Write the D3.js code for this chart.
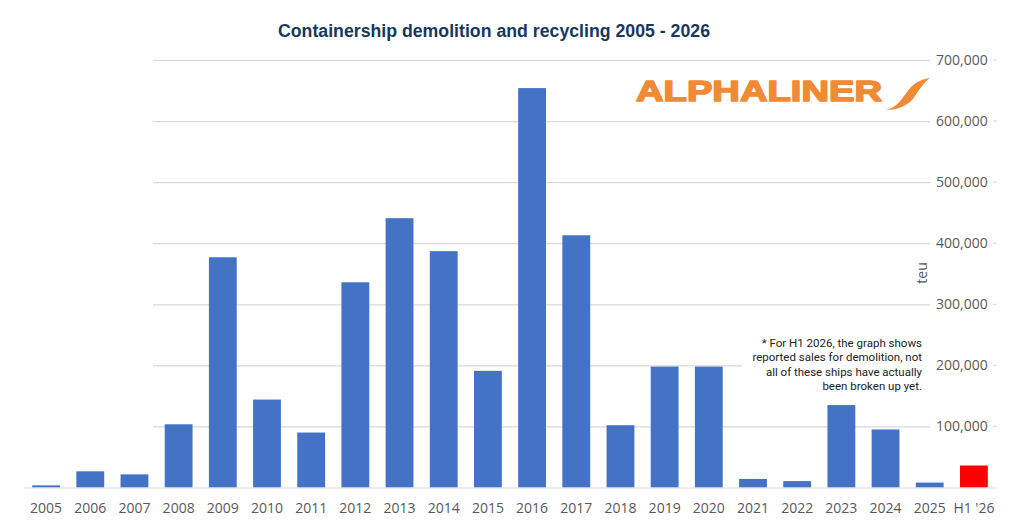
<!DOCTYPE html>
<html lang="en">
<head>
    <meta charset="UTF-8">
    <title>Containership demolition</title>
    <script src="https://d3js.org/d3.v7.min.js"></script>
    <style>
        body { margin: 0; background: #fff; }
    </style>
</head>
<body>
    <script>
        // data (teu)
        var years = ["2005", "2006", "2007", "2008", "2009", "2010", "2011", "2012", "2013", "2014", "2015",
                     "2016", "2017", "2018", "2019", "2020", "2021", "2022", "2023", "2024", "2025", "H1 '26"];
        var teu = [3500, 26500, 21500, 103500, 377000, 144000, 90000, 336000, 441000, 387000, 191000,
                   654000, 413000, 102000, 198000, 198000, 14000, 10500, 135000, 95000, 8000, 36000];
        var yTicks = [100000, 200000, 300000, 400000, 500000, 600000, 700000];
        var noteLines = ["* For H1 2026, the graph shows",
                         "reported sales for demolition, not",
                         "all of these ships have actually",
                         "been broken up yet."];

        var W = 1024, H = 525;
        var svg = d3.select("body").append("svg")
            .attr("width", W)
            .attr("height", H);

        var x = d3.scaleBand()
            .domain(years)
            .range([24, 996])
            .paddingInner(0.37)
            .paddingOuter(0.185);

        var y = d3.scaleLinear()
            .domain([0, 700000])
            .range([487.5, 60]);

        // gridlines + right labels
        var gy = svg.append("g")
            .attr("transform", "translate(153,0)")
            .call(d3.axisRight(y).tickValues(yTicks).tickSize(777).tickPadding(6)
                .tickFormat(d3.format(",")));
        gy.select(".domain").remove();
        gy.selectAll("line").attr("stroke", "#d9d9d9").attr("stroke-width", 1.2);
        gy.selectAll("text")
            .attr("fill", "#595959")
            .style("font-family", "'Open Sans', sans-serif")
            .style("font-size", "14px");

        // tiny tick marks right of the labels
        svg.append("g").selectAll("line")
            .data(yTicks)
            .enter()
            .append("line")
            .attr("x1", 993).attr("x2", 997)
            .attr("y1", function(d){ return y(d); })
            .attr("y2", function(d){ return y(d); })
            .attr("stroke", "#d9d9d9");

        // white box behind the note
        svg.append("rect")
            .attr("x", 742).attr("y", 330)
            .attr("width", 188).attr("height", 68)
            .attr("fill", "#fff");

        // bars
        svg.append("g").selectAll("rect")
            .data(years)
            .enter()
            .append("rect")
            .attr("x", function(d){ return x(d); })
            .attr("width", x.bandwidth())
            .attr("y", function(d, i){ return y(teu[i]); })
            .attr("height", function(d, i){ return y(0) - y(teu[i]); })
            .attr("fill", function(d){ return d == "H1 '26" ? "#ff0000" : "#4472c4"; });

        // bottom axis
        var gx = svg.append("g")
            .attr("transform", "translate(0," + y(0) + ")")
            .call(d3.axisBottom(x).tickSize(0));
        gx.select(".domain").attr("stroke", "#d9d9d9").attr("stroke-width", 1.2);
        gx.selectAll("text")
            .attr("y", 25).attr("dy", 0)
            .attr("fill", "#595959")
            .style("font-family", "'Open Sans', sans-serif")
            .style("font-size", "14px");

        // axis title
        svg.append("text")
            .attr("transform", "translate(927,273) rotate(-90)")
            .attr("text-anchor", "middle")
            .attr("fill", "#595959")
            .style("font-family", "'Open Sans', sans-serif")
            .style("font-size", "14px")
            .text("teu");

        // title
        svg.append("text")
            .attr("x", 278).attr("y", 36.5)
            .attr("textLength", 432)
            .attr("lengthAdjust", "spacingAndGlyphs")
            .attr("fill", "#17375e")
            .style("font-family", "'Liberation Sans', Arial, sans-serif")
            .style("font-weight", "bold")
            .style("font-size", "18px")
            .text("Containership demolition and recycling 2005 - 2026");

        // logo
        svg.append("text")
            .attr("x", 636).attr("y", 100.5)
            .attr("textLength", 246)
            .attr("lengthAdjust", "spacingAndGlyphs")
            .attr("fill", "#f08a35")
            .attr("stroke", "#f08a35")
            .attr("stroke-width", 1.6)
            .attr("stroke-linejoin", "round")
            .style("font-family", "'Liberation Sans', Arial, sans-serif")
            .style("font-weight", "bold")
            .style("font-size", "30px")
            .text("ALPHALINER");
        svg.append("path")
            .attr("d", "M884,110 C898,109 903,96 911,87 C917,81 923,79 930,78 C924,82 919,90 913,99 C906,107 896,110 884,110 Z")
            .attr("fill", "#f08a35");

        // note
        svg.append("text")
            .attr("text-anchor", "end")
            .attr("fill", "#222")
            .style("font-family", "Roboto, sans-serif")
            .style("font-size", "11.5px")
            .selectAll("tspan")
            .data(noteLines)
            .enter()
            .append("tspan")
            .attr("x", 922)
            .attr("y", function(d, i){ return 347 + i * 14.3; })
            .text(function(d){ return d; });
    </script>
</body>
</html>
